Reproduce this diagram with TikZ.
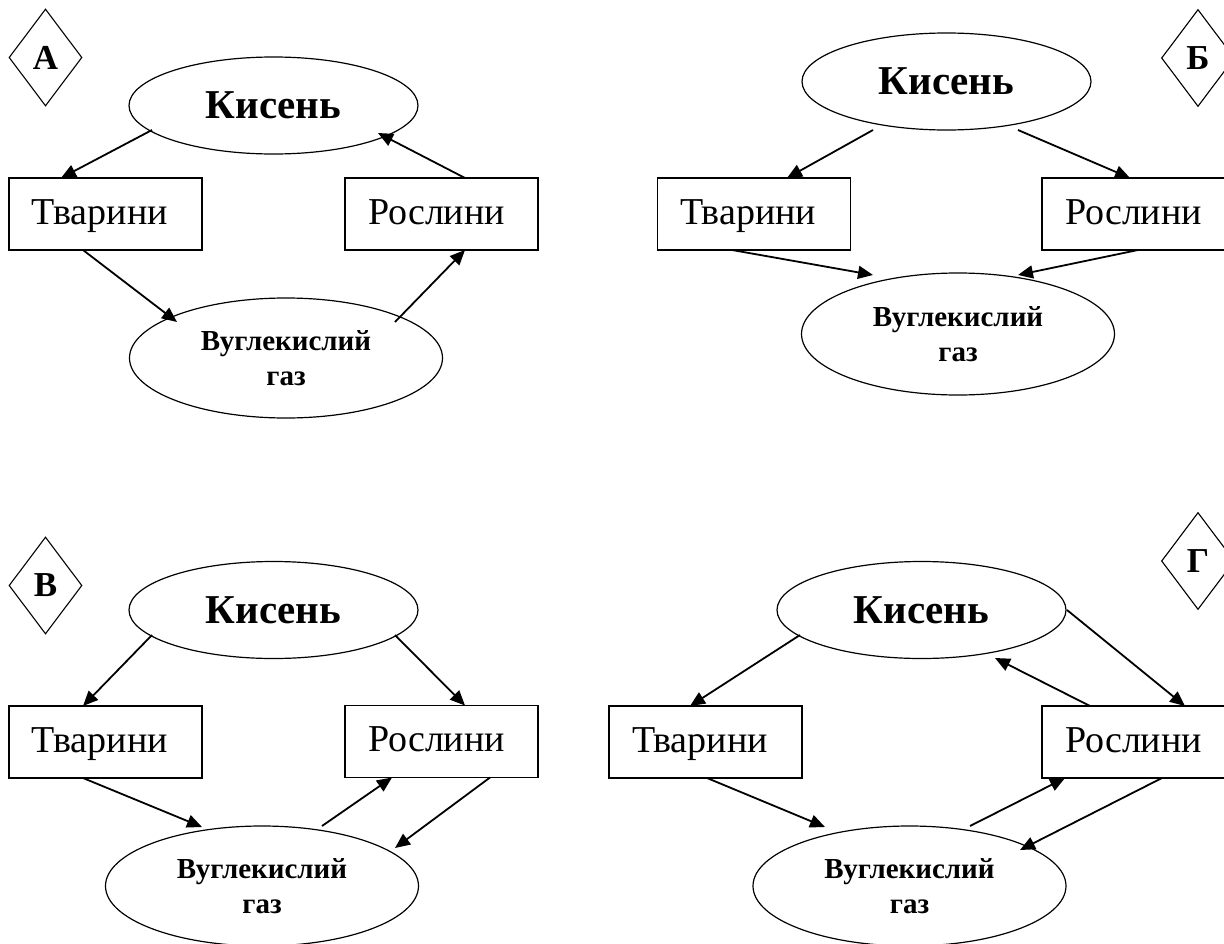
\documentclass[tikz,border=0pt]{standalone}
\usepackage{fontspec}
\setmainfont{Liberation Serif}
\usetikzlibrary{shapes.geometric,arrows.meta,calc}
\begin{document}
\begin{tikzpicture}[x=1bp,y=-1bp,
  oval/.style={ellipse,draw,line width=1.2bp,inner sep=0pt},
  oxy/.style={oval,minimum width=289bp,minimum height=97bp,
    font=\fontsize{41bp}{45bp}\selectfont\bfseries},
  gas/.style={oval,minimum width=313bp,minimum height=120bp,align=center,
    font=\fontsize{29bp}{35bp}\selectfont\bfseries},
  box/.style={rectangle,draw,line width=1.2bp,minimum width=193bp,minimum height=72bp,
    inner xsep=23bp,inner ysep=0pt,text width=147bp,align=left,
    text height=30bp,text depth=10bp,
    font=\fontsize{38bp}{42bp}\selectfont},
  tag/.style={diamond,draw,line width=1.1bp,minimum width=73bp,minimum height=97bp,
    inner sep=0pt,font=\fontsize{35bp}{38bp}\selectfont\bfseries},
  flow/.style={line width=1.8bp,-{Triangle[length=15bp,width=13bp]}}
]
\useasboundingbox (0,0) rectangle (1224,944);

% ---------- A ----------
\node[tag] (dA) at (45.5,57.5) {А};
\node[oxy] (kA) at (273.5,105.5) {Кисень};
\node[box] (tA) at (105.5,214) {Тварини};
\node[box] (rA) at (441.5,214) {Рослини};
\node[gas] (gA) at (286,358) {Вуглекислий\\газ};
\draw[flow] ($(kA)+(-121.5,24.5)$) -- ($(tA)+(-44.5,-36)$);
\draw[flow] ($(rA)+(23.5,-36)$) -- ($(kA)+(104.5,27.5)$);
\draw[flow] ($(tA)+(-22.5,36)$) -- ($(gA)+(-109,-36)$);
\draw[flow] ($(gA)+(109,-36)$) -- ($(rA)+(23.5,36)$);

% ---------- Б ----------
\node[tag] (dB) at (1198,58) {Б};
\node[oxy] (kB) at (946.5,81.5) {Кисень};
\node[box] (tB) at (754,214) {Тварини};
\node[box] (rB) at (1138.5,214) {Рослини};
\node[gas,minimum height=122bp] (gB) at (958,334) {Вуглекислий\\газ};
\draw[flow] ($(kB)+(-73.5,48.5)$) -- ($(tB)+(33,-36)$);
\draw[flow] ($(kB)+(71.5,48.5)$) -- ($(rB)+(-8.5,-36)$);
\draw[flow] ($(tB)+(-22,36)$) -- ($(gB)+(-85,-59)$);
\draw[flow] ($(rB)+(-0.5,36)$) -- ($(gB)+(60,-59)$);

% ---------- В ----------
\node[tag] (dC) at (45.5,585.5) {В};
\node[oxy] (kC) at (273.5,610) {Кисень};
\node[box] (tC) at (105.5,742) {Тварини};
\node[box] (rC) at (441.5,741.5) {Рослини};
\node[gas] (gC) at (262,886) {Вуглекислий\\газ};
\draw[flow] ($(kC)+(-121.5,25)$) -- ($(tC)+(-22.5,-36)$);
\draw[flow] ($(kC)+(121.5,25)$) -- ($(rC)+(23.5,-36)$);
\draw[flow] ($(tC)+(-22.5,36)$) -- ($(gC)+(-60,-59)$);
\draw[flow] ($(gC)+(60,-60)$) -- ($(rC)+(-49.5,36)$);
\draw[flow] ($(rC)+(48.5,36)$) -- ($(gC)+(133,-38)$);

% ---------- Г ----------
\node[tag] (dD) at (1198,561) {Г};
\node[oxy] (kD) at (921.5,610) {Кисень};
\node[box] (tD) at (705.5,742) {Тварини};
\node[box] (rD) at (1138.5,742) {Рослини};
\node[gas] (gD) at (909.5,886) {Вуглекислий\\газ};
\draw[flow] ($(kD)+(-121.5,25)$) -- ($(tD)+(-15.5,-36)$);
\draw[flow] ($(kD)+(145.5,0)$) -- ($(rD)+(46.5,-36)$);
\draw[flow] ($(rD)+(-48.5,-36)$) -- ($(kD)+(73.5,48)$);
\draw[flow] ($(tD)+(1.5,36)$) -- ($(gD)+(-84.5,-59)$);
\draw[flow] ($(gD)+(60.5,-60)$) -- ($(rD)+(-73.5,36)$);
\draw[flow] ($(rD)+(23.5,36)$) -- ($(gD)+(110.5,-36)$);
\end{tikzpicture}
\end{document}
